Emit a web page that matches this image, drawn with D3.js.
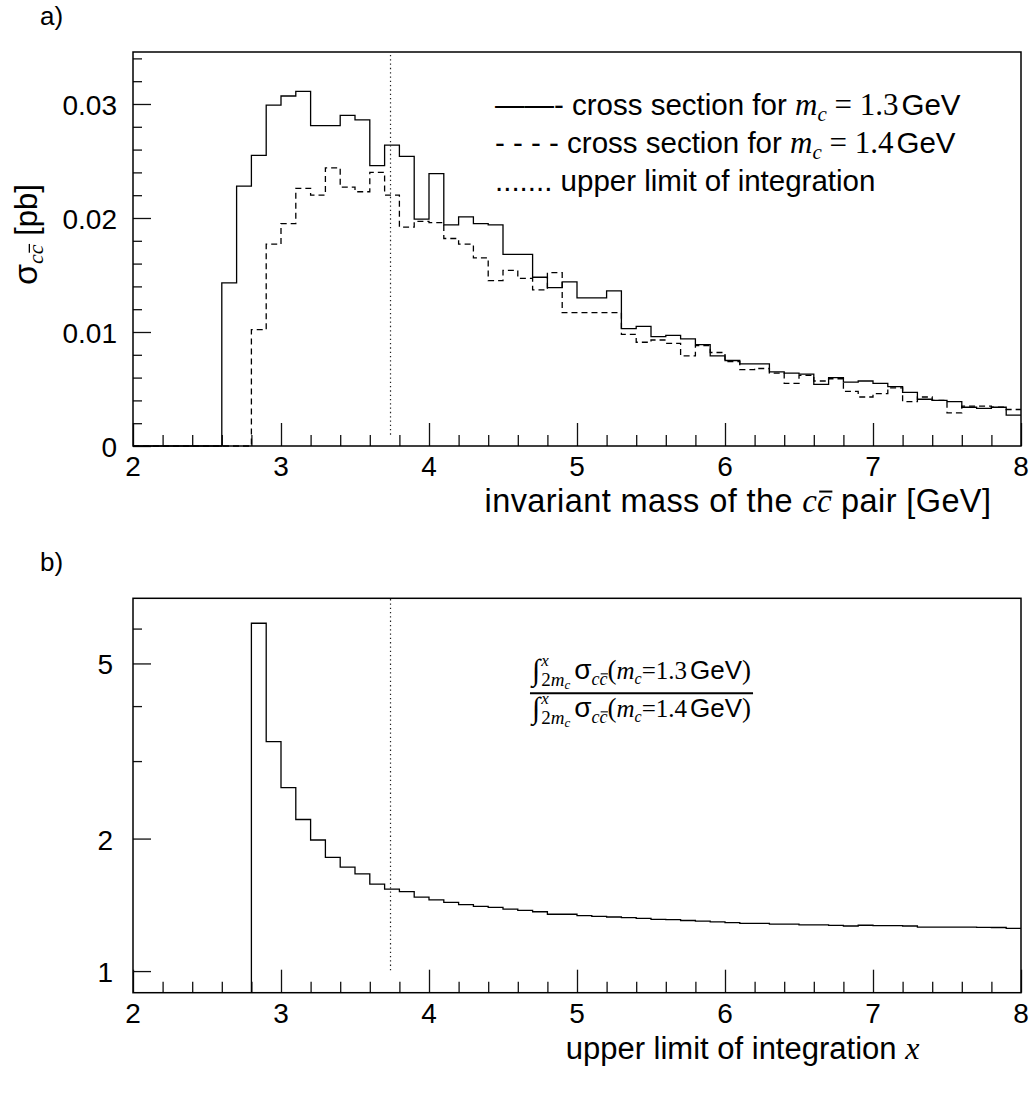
<!DOCTYPE html>
<html><head><meta charset="utf-8">
<script src="https://cdn.jsdelivr.net/npm/d3@7"></script>
<style>html,body{margin:0;padding:0;background:#fff}svg{display:block}</style>
</head><body>
<svg id="c" width="1031" height="1093"></svg>
<script>
// ---------------- data ----------------
const binLow = [2.0,2.1,2.2,2.3,2.4,2.5,2.6,2.7,2.8,2.9,3.0,3.1,3.2,3.3,3.4,3.5,3.6,3.7,3.8,3.9,
  4.0,4.1,4.2,4.3,4.4,4.5,4.6,4.7,4.8,4.9,5.0,5.1,5.2,5.3,5.4,5.5,5.6,5.7,5.8,5.9,
  6.0,6.1,6.2,6.3,6.4,6.5,6.6,6.7,6.8,6.9,7.0,7.1,7.2,7.3,7.4,7.5,7.6,7.7,7.8,7.9];
const binWidth = 0.1;
// cross section, m_c = 1.3 GeV (solid)
const sigma13 = [0,0,0,0,0,0,0.0143,0.0228,0.0255,0.0299,0.0307,0.0311,0.0281,0.0281,0.0290,0.0286,0.0246,0.0264,0.0254,0.0199,
  0.0239,0.0194,0.0201,0.0195,0.0194,0.0168,0.0168,0.0148,0.0139,0.0144,0.0130,0.0130,0.0136,0.0103,0.0105,0.0096,0.0097,0.0094,0.0089,0.0079,
  0.0075,0.0072,0.0072,0.0065,0.0064,0.0063,0.0054,0.0060,0.0056,0.0057,0.0055,0.0052,0.0047,0.0041,0.0040,0.0039,0.0034,0.0033,0.0034,0.0027];
// cross section, m_c = 1.4 GeV (dashed)
const sigma14 = [0,0,0,0,0,0,0,0,0.0102,0.0177,0.0195,0.0226,0.0220,0.0244,0.0227,0.0223,0.0240,0.0220,0.0192,0.0197,
  0.0196,0.0182,0.0177,0.0165,0.0145,0.0154,0.0147,0.0137,0.0152,0.0117,0.0117,0.0117,0.0117,0.0098,0.0091,0.0093,0.0090,0.0079,0.0088,0.0082,
  0.0074,0.0067,0.0068,0.0064,0.0055,0.0062,0.0057,0.0059,0.0048,0.0043,0.0046,0.0051,0.0039,0.0043,0.0040,0.0029,0.0035,0.0035,0.0034,0.0032];
// ratio of integrals, bins starting at 2.8
const ratioStart = 8; // index into binLow
const ratio = [6.17,3.32,2.61,2.21,1.985,1.813,1.723,1.662,1.576,1.536,1.515,1.473,
  1.452,1.432,1.415,1.403,1.395,1.383,1.374,1.364,1.346,1.346,1.336,1.331,1.327,1.322,1.318,1.311,1.309,1.303,1.299,1.294,
  1.288,1.283,1.283,1.279,1.279,1.274,1.273,1.270,1.266,1.271,1.268,1.268,1.266,1.259,1.259,1.259,1.258,1.257,1.256,1.250];
const cutX = 3.74;
const xMajor = [2,3,4,5,6,7,8];
const xMinor = [2.2,2.4,2.6,2.8,3.2,3.4,3.6,3.8,4.2,4.4,4.6,4.8,5.2,5.4,5.6,5.8,6.2,6.4,6.6,6.8,7.2,7.4,7.6,7.8];
const topYMajor = [0,0.01,0.02,0.03];
const topYLabels = ["0","0.01","0.02","0.03"];
const topYMinor = [0.002,0.004,0.006,0.008,0.012,0.014,0.016,0.018,0.022,0.024,0.026,0.028,0.032,0.034];
const botYMajor = [1,2,5];
const botYLabels = ["1","2","5"];
const botYMinor = [3,4,6];

// ---------------- setup ----------------
const SANS = "'Liberation Sans', Arial, Helvetica, sans-serif";
const SERIF = "'Liberation Serif', 'Times New Roman', serif";
const svg = d3.select('#c');
svg.append('rect').attr('width',1031).attr('height',1093).attr('fill','#fff');

const x = d3.scaleLinear().domain([2,8]).range([133,1021]);
const yTop = d3.scaleLinear().domain([0,0.03456]).range([446,52]);
const yBot = d3.scaleLog().domain([0.893,7.03]).range([992.7,598.3]);

// rich text helper: parts laid out left to right
function rich(parent, px, py, parts, opt) {
  opt = opt || {};
  const sy = opt.sy || 1.0;
  const g = parent.append('g').attr('transform',
    `translate(${px},${py}) scale(1,${sy})` + (opt.rotate ? ' rotate(-90)' : ''));
  const gi = g.append('g');
  let cx = 0;
  parts.forEach(p => {
    const t = gi.append('text')
      .attr('x', cx + (p.dx || 0)).attr('y', p.dy || 0)
      .attr('font-family', p.serif ? SERIF : SANS)
      .attr('font-size', p.s)
      .attr('font-style', p.it ? 'italic' : null)
      .attr('letter-spacing', p.ls || null)
      .attr('fill', '#000')
      .style('white-space','pre')
      .text(p.t);
    const w = t.node().getComputedTextLength();
    if (p.over) {
      gi.append('line')
        .attr('x1', cx + (p.dx||0) + w*0.15).attr('x2', cx + (p.dx||0) + w*1.05)
        .attr('y1', (p.dy||0) - p.s*0.62).attr('y2', (p.dy||0) - p.s*0.62)
        .attr('stroke','#000').attr('stroke-width', Math.max(1, p.s*0.06));
    }
    if (!p.keep) cx += (p.dx || 0) + w;
  });
  const anchor = opt.anchor || 'start';
  if (anchor === 'middle') gi.attr('transform', `translate(${-cx/2},0)`);
  if (anchor === 'end') gi.attr('transform', `translate(${-cx},0)`);
  return cx;
}

const TICK_FS = 28;
function panel(yScale, yMajor, yMinor, yLabels, labelPad) {
  const y0 = yScale.range()[0], y1 = yScale.range()[1];
  const g = svg.append('g');
  // x ticks (inward)
  const ax1 = g.append('g').attr('transform',`translate(0,${y0})`)
    .call(d3.axisBottom(x).tickValues(xMajor).tickSize(-23).tickFormat(''));
  const ax2 = g.append('g').attr('transform',`translate(0,${y0})`)
    .call(d3.axisBottom(x).tickValues(xMinor).tickSize(-11).tickFormat(''));
  const ay1 = g.append('g').attr('transform',`translate(${x.range()[0]},0)`)
    .call(d3.axisLeft(yScale).tickValues(yMajor).tickSize(-18).tickFormat(''));
  const ay2 = g.append('g').attr('transform',`translate(${x.range()[0]},0)`)
    .call(d3.axisLeft(yScale).tickValues(yMinor).tickSize(-9).tickFormat(''));
  [ax1,ax2,ay1,ay2].forEach(a => {
    a.select('.domain').remove();
    a.selectAll('line').attr('stroke','#111').attr('stroke-width',1.3);
  });
  // frame
  g.append('rect').attr('x', x.range()[0]).attr('y', y1)
    .attr('width', x.range()[1]-x.range()[0]).attr('height', y0-y1)
    .attr('fill','none').attr('stroke','#000').attr('stroke-width',1.5);
  // labels
  xMajor.forEach(v => rich(svg, x(v), y0 + 30, [{t:String(v), s:TICK_FS}], {anchor:'middle'}));
  yMajor.forEach((v,i) => rich(svg, x.range()[0] - labelPad, yScale(v) + 11, [{t:yLabels[i], s:TICK_FS}], {anchor:'end'}));
}

function stepPoints(lows, vals) {
  const pts = lows.map((l,i) => [l, vals[i]]);
  pts.push([lows[lows.length-1] + binWidth, vals[vals.length-1]]);
  return pts;
}

// ---------------- top panel ----------------
panel(yTop, topYMajor, topYMinor, topYLabels, 16);
const lineTop = d3.line().x(d => x(d[0])).y(d => yTop(d[1])).curve(d3.curveStepAfter);
svg.append('path').datum(stepPoints(binLow, sigma14)).attr('d', lineTop)
  .attr('fill','none').attr('stroke','#000').attr('stroke-width',1.3).attr('stroke-dasharray','6,4');
svg.append('path').datum(stepPoints(binLow, sigma13)).attr('d', lineTop)
  .attr('fill','none').attr('stroke','#000').attr('stroke-width',1.3);
svg.append('line').attr('x1', x(cutX)).attr('x2', x(cutX))
  .attr('y1', yTop(0.0343)).attr('y2', yTop(0.0008))
  .attr('stroke','#222').attr('stroke-width',1.2).attr('stroke-dasharray','1.3,3');

// legend
const LFS = 29.5, MFS = 31;
function legendMass(prefix, v) {
  return [
    {t:prefix + ' cross section for ', s:LFS},
    {t:'m', serif:true, it:true, s:MFS},
    {t:'c', serif:true, it:true, s:21, dy:6},
    {t:' = ', serif:true, s:MFS},
    {t:v, serif:true, s:MFS},
    {t:'GeV', s:LFS, dx:3}
  ];
}
rich(svg, 495, 115, legendMass('——-', '1.3'));
rich(svg, 495, 153, legendMass('- - - -', '1.4'));
rich(svg, 495, 191, [{t:'....... upper limit of integration', s:LFS}]);

// axis titles
rich(svg, 738, 512, [
  {t:'invariant mass of the ', s:32.5, ls:0.4},
  {t:'c', serif:true, it:true, s:33},
  {t:'c', serif:true, it:true, s:33, over:true},
  {t:' pair [GeV]', s:32.5, ls:0.4}
], {anchor:'middle'});
rich(svg, 37, 234.5, [
  {t:'σ', s:34},
  {t:'c', serif:true, it:true, s:22, dy:6},
  {t:'c', serif:true, it:true, s:22, dy:6, over:true},
  {t:' [pb]', s:31}
], {anchor:'middle', rotate:true});
rich(svg, 40, 25, [{t:'a)', s:26}]);

// ---------------- bottom panel ----------------
panel(yBot, botYMajor, botYMinor, botYLabels, 20);
const lineBot = d3.line().x(d => x(d[0])).y(d => yBot(d[1])).curve(d3.curveStepAfter);
const rPts = stepPoints(binLow.slice(ratioStart), ratio);
rPts.unshift([binLow[ratioStart], yBot.domain()[0]]);
svg.append('path').datum(rPts).attr('d', lineBot)
  .attr('fill','none').attr('stroke','#000').attr('stroke-width',1.3);
svg.append('line').attr('x1', x(cutX)).attr('x2', x(cutX))
  .attr('y1', yBot(7.0)).attr('y2', yBot(1))
  .attr('stroke','#222').attr('stroke-width',1.2).attr('stroke-dasharray','1.3,3');

rich(svg, 742.5, 1059, [
  {t:'upper limit of integration ', s:31},
  {t:'x', serif:true, it:true, s:32}
], {anchor:'middle'});
rich(svg, 40, 571, [{t:'b)', s:26}]);

// fraction
function fracLine(v) {
  return [
    {t:'∫', serif:true, s:30, dy:1},
    {t:'x', serif:true, it:true, s:17, dy:-13, dx:1, keep:true},
    {t:'2', serif:true, s:19, dy:7, dx:1},
    {t:'m', serif:true, it:true, s:19, dy:7},
    {t:'c', serif:true, it:true, s:13, dy:10},
    {t:'σ', s:28, dx:4},
    {t:'c', serif:true, it:true, s:18, dy:6},
    {t:'c', serif:true, it:true, s:18, dy:6, over:true},
    {t:'(', serif:true, s:27},
    {t:'m', serif:true, it:true, s:25},
    {t:'c', serif:true, it:true, s:16, dy:5},
    {t:'=', serif:true, s:25},
    {t:v, serif:true, s:25},
    {t:'GeV', s:26, dx:3},
    {t:')', serif:true, s:27}
  ];
}
const fcx = 641.5;
const wN = rich(svg, fcx, 679, fracLine('1.3'), {anchor:'middle'});
const wD = rich(svg, fcx, 717, fracLine('1.4'), {anchor:'middle'});
const half = Math.max(wN, wD)/2 + 2;
svg.append('line').attr('x1', fcx-half).attr('x2', fcx+half)
  .attr('y1', 693.3).attr('y2', 693.3).attr('stroke','#000').attr('stroke-width',2);
</script>
</body></html>
